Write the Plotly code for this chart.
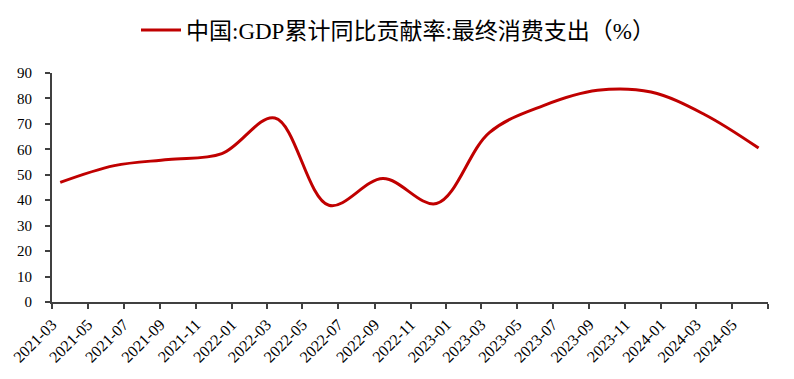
import plotly.graph_objects as go

dates = ["2021-03-15", "2021-06-15", "2021-09-15", "2021-12-15",
         "2022-03-15", "2022-06-15", "2022-09-15", "2022-12-15",
         "2023-03-15", "2023-06-15", "2023-09-15", "2023-12-15",
         "2024-03-15", "2024-06-15"]
values = [47.0, 53.6, 56.0, 58.3,
          72.3, 38.0, 48.5, 38.7,
          66.6, 77.2, 83.2, 82.5,
          73.7, 60.5]
series_name = "中国:GDP累计同比贡献率:最终消费支出（%）"
tick_labels = ["2021-03", "2021-05", "2021-07", "2021-09", "2021-11",
               "2022-01", "2022-03", "2022-05", "2022-07", "2022-09", "2022-11",
               "2023-01", "2023-03", "2023-05", "2023-07", "2023-09", "2023-11",
               "2024-01", "2024-03", "2024-05"]
tick_vals = [t + "-01" for t in tick_labels]

axis_color = "#404040"
font_family = "Times New Roman, Liberation Serif, Noto Sans CJK SC, serif"

W, H = 794, 379
OFF = 8  # default page body margin

fig = go.Figure()
fig.add_trace(go.Scatter(
    x=dates, y=values, mode="lines", name=series_name,
    line=dict(color="#C00000", width=3, shape="spline", smoothing=1.0),
))

fig.update_layout(
    width=W, height=H,
    margin=dict(l=52 - OFF, r=W - (768 - OFF), t=73 - OFF, b=H - (302 - OFF), autoexpand=False),
    paper_bgcolor="white", plot_bgcolor="white",
    font=dict(family=font_family, color="black", size=15),
    showlegend=True,
    legend=dict(orientation="h", x=(398 - OFF) / W, xanchor="center",
                y=1 - (30 - OFF) / H, yanchor="middle", yref="container", xref="container",
                itemwidth=40,
                font=dict(size=23, family=font_family)),
    xaxis=dict(
        type="date", range=["2021-03-01", "2024-07-01"], automargin=False,
        tickmode="array", tickvals=tick_vals, ticktext=tick_labels,
        tickangle=-45, ticks="outside", ticklen=5, tickwidth=1.5, tickcolor=axis_color,
        minor=dict(tickmode="array", tickvals=["2024-07-01"], ticks="outside",
                   ticklen=5, tickwidth=1.5, tickcolor=axis_color),
        showline=True, linecolor=axis_color, linewidth=2,
        showgrid=False, zeroline=False,
        tickfont=dict(size=16, family=font_family),
    ),
    yaxis=dict(
        range=[0, 90], dtick=10, tick0=0, automargin=False,
        ticks="outside", ticklen=5, tickwidth=1.5, tickcolor=axis_color,
        ticklabelstandoff=10,
        showline=True, linecolor=axis_color, linewidth=2,
        showgrid=False, zeroline=False,
        tickfont=dict(size=15, family=font_family),
    ),
)

fig.write_html("out.html")
